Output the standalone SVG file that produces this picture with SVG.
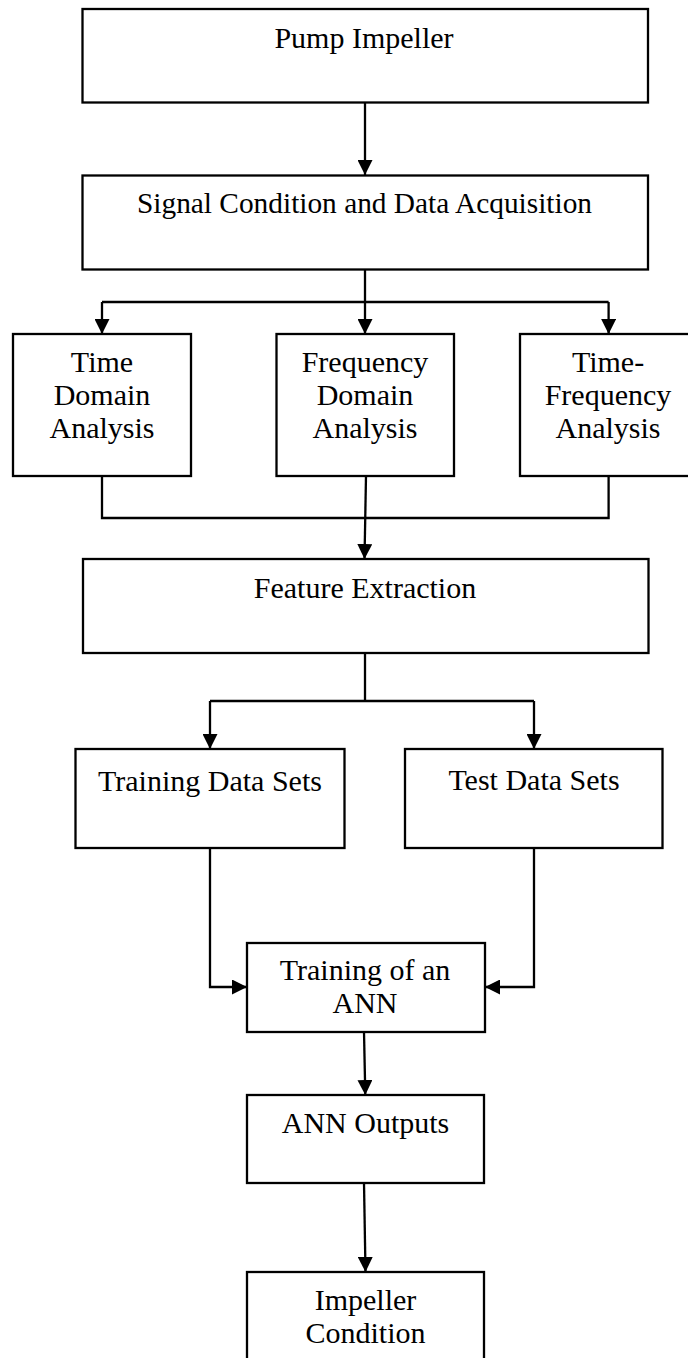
<svg xmlns="http://www.w3.org/2000/svg" width="688" height="1358" viewBox="0 0 688 1358">
  <style>
    .box { fill: #ffffff; stroke: #000000; stroke-width: 2.3; }
    .lbl { font-family: "Liberation Serif", "Times New Roman", serif; font-size: 30px; fill: #000000; text-anchor: middle; }
    .wire { fill: none; stroke: #000000; stroke-width: 2.3; }
    .arr { fill: none; stroke: #000000; stroke-width: 2.3; marker-end: url(#head); }
  </style>
  <defs>
    <marker id="head" viewBox="0 0 15 15" refX="15" refY="7.5" markerWidth="15" markerHeight="15" markerUnits="userSpaceOnUse" orient="auto">
      <path d="M0,0 L15,7.5 L0,15 Z" fill="#000000"/>
    </marker>
  </defs>
  <rect x="0" y="0" width="688" height="1358" fill="#ffffff"/>

  <!-- connectors -->
  <g id="connectors">
    <path class="arr" d="M365,103 V175"/>
    <path class="wire" d="M365,270 V302"/>
    <path class="wire" d="M102,302 H608.6"/>
    <path class="arr" d="M102,302 V334"/>
    <path class="arr" d="M365,302 V334"/>
    <path class="arr" d="M608.6,302 V334"/>
    <path class="wire" d="M102,476 V518 H608.6 V476"/>
    <path class="arr" d="M366,476 L364.5,559"/>
    <path class="wire" d="M365,653 V701"/>
    <path class="wire" d="M210,701 H534"/>
    <path class="arr" d="M210,701 V749"/>
    <path class="arr" d="M534,701 V749"/>
    <path class="arr" d="M210,848 V987 H247"/>
    <path class="arr" d="M534,848 V987 H485"/>
    <path class="arr" d="M364,1032 L365.3,1095"/>
    <path class="arr" d="M364,1183 L365.5,1272"/>
  </g>

  <g id="pump-impeller">
    <rect class="box" x="82.5" y="9" width="565.5" height="93.5"/>
    <text class="lbl" x="364" y="48">Pump Impeller</text>
  </g>

  <g id="signal-condition">
    <rect class="box" x="82.5" y="175.5" width="565.5" height="94"/>
    <text class="lbl" x="364.5" y="213" textLength="455" lengthAdjust="spacingAndGlyphs">Signal Condition and Data Acquisition</text>
  </g>

  <g id="time-domain">
    <rect class="box" x="13" y="334" width="178" height="142"/>
    <text class="lbl" x="102" y="372">Time</text>
    <text class="lbl" x="102" y="405">Domain</text>
    <text class="lbl" x="102" y="438">Analysis</text>
  </g>

  <g id="frequency-domain">
    <rect class="box" x="276.5" y="334" width="177.5" height="142"/>
    <text class="lbl" x="365" y="372">Frequency</text>
    <text class="lbl" x="365" y="405">Domain</text>
    <text class="lbl" x="365" y="438">Analysis</text>
  </g>

  <g id="time-frequency">
    <rect class="box" x="520" y="334" width="180" height="142"/>
    <text class="lbl" x="608" y="372">Time-</text>
    <text class="lbl" x="608" y="405">Frequency</text>
    <text class="lbl" x="608" y="438">Analysis</text>
  </g>

  <g id="feature-extraction">
    <rect class="box" x="83" y="559" width="565.5" height="94"/>
    <text class="lbl" x="365" y="597.5">Feature Extraction</text>
  </g>

  <g id="training-data">
    <rect class="box" x="75.5" y="749" width="269" height="99"/>
    <text class="lbl" x="210" y="790.5">Training Data Sets</text>
  </g>

  <g id="test-data">
    <rect class="box" x="405" y="749" width="257.5" height="99"/>
    <text class="lbl" x="534" y="790">Test Data Sets</text>
  </g>

  <g id="ann-training">
    <rect class="box" x="247" y="943" width="238" height="89"/>
    <text class="lbl" x="365" y="980">Training of an</text>
    <text class="lbl" x="365" y="1013">ANN</text>
  </g>

  <g id="ann-outputs">
    <rect class="box" x="247" y="1095" width="237" height="88"/>
    <text class="lbl" x="365.5" y="1132.5">ANN Outputs</text>
  </g>

  <g id="impeller-condition">
    <rect class="box" x="247" y="1272" width="237" height="120"/>
    <text class="lbl" x="365.5" y="1310">Impeller</text>
    <text class="lbl" x="365.5" y="1343">Condition</text>
  </g>
</svg>
